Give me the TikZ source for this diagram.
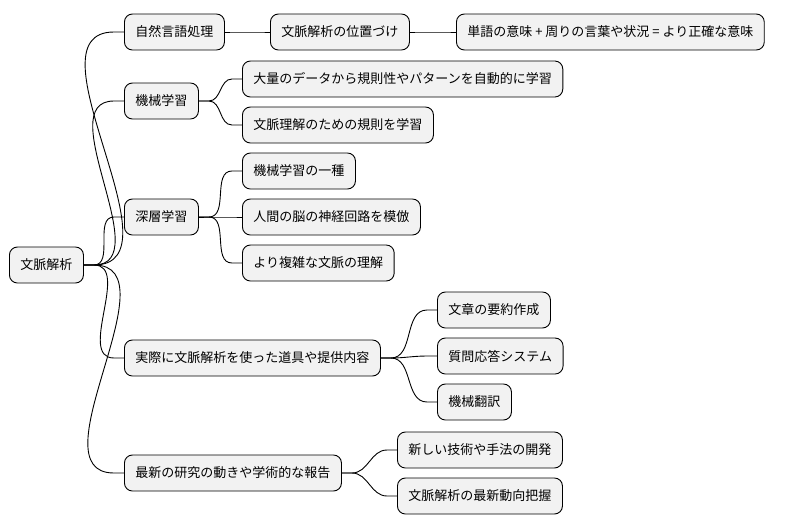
\documentclass[tikz,border=0pt]{standalone}
\usepackage{fontspec}
\setmainfont{Noto Sans CJK JP}
\usetikzlibrary{positioning}
\tikzset{
  topic/.style={draw=black, fill=gray!10, rounded corners=8pt, line width=0.9pt,
    minimum height=36pt, inner xsep=11pt, anchor=west,
    font=\fontsize{13}{15}\selectfont},
  branch/.style={line width=0.9pt}
}
\newcommand{\link}[2]{\draw[branch] (#1.east) -- ++(10,0) to[out=0,in=180] ([xshift=-10pt]#2.west) -- (#2.west);}
\begin{document}
\begin{tikzpicture}[x=1pt,y=-1pt]
  \useasboundingbox (0,0) rectangle (808,530);
  % root
  \node[topic] (root) at (9,265) {文脈解析};
  % first level
  \node[topic] (nlp) at (124,32) {自然言語処理};
  \node[topic] (ml) at (124,101) {機械学習};
  \node[topic] (dl) at (124,217) {深層学習};
  \node[topic] (use) at (124,358) {実際に文脈解析を使った道具や提供内容};
  \node[topic] (news) at (124,473) {最新の研究の動きや学術的な報告};
  % second level
  \node[topic] (pos) at (270,32) {文脈解析の位置づけ};
  \node[topic] (mean) at (456,32) {単語の意味 + 周りの言葉や状況 = より正確な意味};
  \node[topic] (ml1) at (242,79) {大量のデータから規則性やパターンを自動的に学習};
  \node[topic] (ml2) at (242,125) {文脈理解のための規則を学習};
  \node[topic] (dl1) at (242,171) {機械学習の一種};
  \node[topic] (dl2) at (242,217) {人間の脳の神経回路を模倣};
  \node[topic] (dl3) at (242,263) {より複雑な文脈の理解};
  \node[topic] (u1) at (437,310) {文章の要約作成};
  \node[topic] (u2) at (437,356) {質問応答システム};
  \node[topic] (u3) at (437,402) {機械翻訳};
  \node[topic] (n1) at (397,450) {新しい技術や手法の開発};
  \node[topic] (n2) at (397,496) {文脈解析の最新動向把握};
  % connectors
  \foreach \c in {nlp,ml,dl,use,news} {\link{root}{\c}}
  \link{nlp}{pos}
  \link{pos}{mean}
  \foreach \c in {ml1,ml2} {\link{ml}{\c}}
  \foreach \c in {dl1,dl2,dl3} {\link{dl}{\c}}
  \foreach \c in {u1,u2,u3} {\link{use}{\c}}
  \foreach \c in {n1,n2} {\link{news}{\c}}
\end{tikzpicture}
\end{document}
